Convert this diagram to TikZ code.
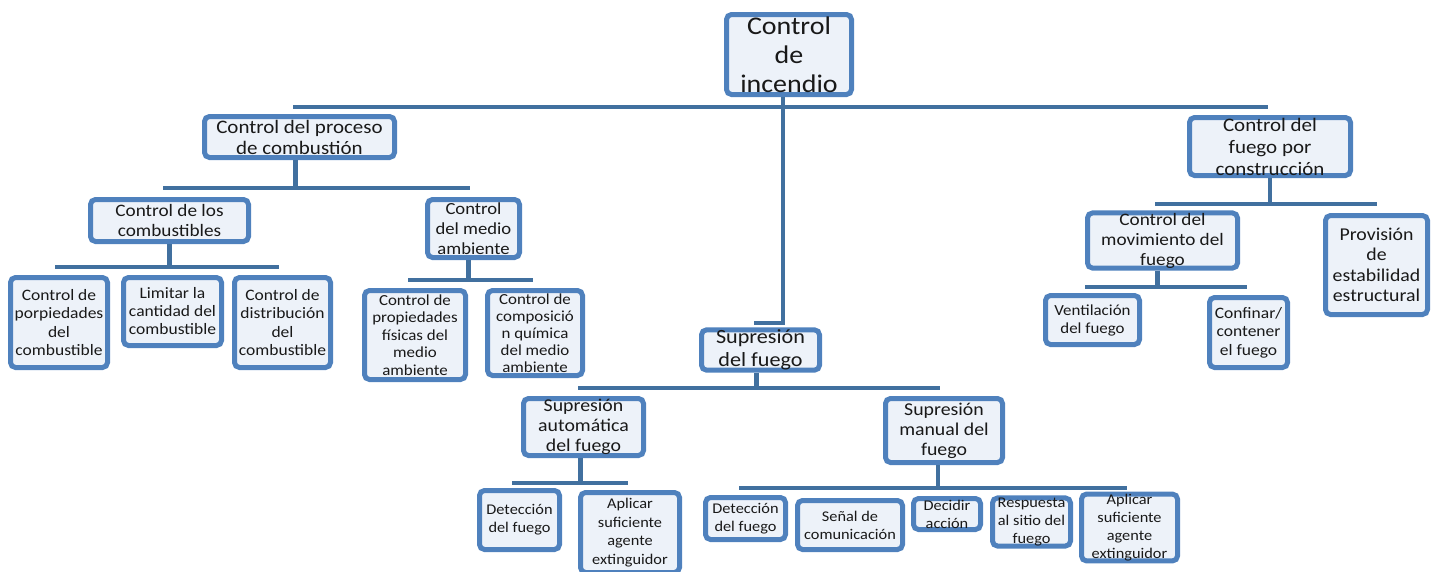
\documentclass[tikz,border=0pt]{standalone}
\usepackage{fontspec}
\setmainfont{Carlito}[FakeStretch=1.1]
\definecolor{bxline}{HTML}{4F81BD}
\definecolor{bxfill}{HTML}{EDF2F9}
\definecolor{cnc}{HTML}{41709F}
\tikzset{
  bx/.style={draw=bxline, line width=5pt, fill=bxfill, rounded corners=5pt,
             align=center, inner sep=0pt, text=black!90},
  cnline/.style={draw=cnc, line width=4.5pt},
}
\newcommand{\mybox}[8]{%
  \pgfmathsetmacro\bw{#4-#2-5}%
  \pgfmathsetmacro\bh{#5-#3-5}%
  \pgfmathsetmacro\cx{(#2+#4)/2}%
  \pgfmathsetmacro\cy{(#3+#5)/2}%
  \pgfmathsetmacro\fs{#6*1.06}%
  \node[bx, minimum width=\bw pt, minimum height=\bh pt,
        font={\fontsize{\fs}{#7}\selectfont}] (#1) at (\cx,\cy) {#8};%
}
\begin{document}
\begin{tikzpicture}[x=1pt,y=-1pt]
\useasboundingbox (0,0) rectangle (1439,571);
% bar coordinates
\coordinate (bML) at (293,107);   \coordinate (bMR) at (1268,107);
\coordinate (bSup) at (754,323);
\coordinate (bPL) at (163,188);   \coordinate (bPR) at (470,188);
\coordinate (bCL) at (55,267);    \coordinate (bCR) at (279,267);
\coordinate (bAL) at (408,280);   \coordinate (bAR) at (533,280);
\coordinate (bKL) at (1155,204);  \coordinate (bKR) at (1377,204);
\coordinate (bVL) at (1085,287);  \coordinate (bVR) at (1247,287);
\coordinate (bSL) at (578,388);   \coordinate (bSR) at (940,388);
\coordinate (bQL) at (512,483);   \coordinate (bQR) at (628,483);
\coordinate (bRL) at (739,488);   \coordinate (bRR) at (1127,488);

% boxes
\mybox{inc}{724}{12}{854}{97}{24}{29}{Control\\de\\incendio}
\mybox{proc}{202}{114}{397}{160}{18}{21}{Control del proceso\\de combustión}
\mybox{cons}{1187}{115}{1353}{178}{18}{22}{Control del\\fuego por\\construcción}
\mybox{comb}{88}{197}{251}{244}{16.5}{20}{Control de los\\combustibles}
\mybox{med}{425}{197}{522}{260}{16}{20}{Control\\del medio\\ambiente}
\mybox{ca}{8}{275}{110}{370}{15}{18.5}{Control de\\porpiedades\\del\\combustible}
\mybox{cb}{121}{275}{224}{348}{15}{18}{Limitar la\\cantidad del\\combustible}
\mybox{cc}{232}{275}{333}{370}{15}{18.5}{Control de\\distribución\\del\\combustible}
\mybox{ma}{362}{288}{468}{382}{14.5}{17.5}{Control de\\propiedades\\físicas del\\medio\\ambiente}
\mybox{mb}{485}{288}{585}{378}{14.5}{17}{Control de\\composició\\n química\\del medio\\ambiente}
\mybox{sup}{699}{330}{822}{370}{19}{23}{Supresión\\del fuego}
\mybox{mov}{1085}{212}{1240}{269}{16.5}{20}{Control del\\movimiento del\\fuego}
\mybox{prov}{1323}{213}{1430}{317}{17}{20.5}{Provisión\\de\\estabilidad\\estructural}
\mybox{ven}{1043}{293}{1142}{347}{14.5}{18}{Ventilación\\del fuego}
\mybox{conf}{1207}{295}{1290}{370}{15}{18.5}{Confinar/\\contener\\el fuego}
\mybox{sa}{521}{396}{646}{458}{17}{20}{Supresión\\automática\\del fuego}
\mybox{sm}{883}{396}{1005}{465}{17}{20}{Supresión\\manual del\\fuego}
\mybox{da}{477}{488}{562}{552}{14}{18}{Detección\\del fuego}
\mybox{aa}{578}{490}{682}{575}{14}{18.5}{Aplicar\\suficiente\\agente\\extinguidor}
\mybox{dm}{703}{495}{788}{542}{14}{18}{Detección\\del fuego}
\mybox{se}{795}{498}{905}{552}{14}{18}{Señal de\\comunicación}
\mybox{de}{911}{496}{983}{532}{14}{18}{Decidir\\acción}
\mybox{re}{990}{497}{1073}{547}{14}{18}{Respuesta\\al sitio del\\fuego}
\mybox{am}{1079}{497}{1180}{558}{14}{18}{Aplicar\\suficiente\\agente\\extinguidor}

% connectors
\draw[cnline] (bML) -- (bMR);
\draw[cnline] ([xshift=-6pt]inc.south) |- (bSup);
\draw[cnline] ([xshift=-4pt]proc.south) -- ([xshift=-4pt]proc.south |- bPL);
\draw[cnline] (bPL) -- (bPR);
\draw[cnline] (comb.south) -- (comb.south |- bCL);
\draw[cnline] (bCL) -- (bCR);
\draw[cnline] ([xshift=-5pt]med.south) -- ([xshift=-5pt]med.south |- bAL);
\draw[cnline] (bAL) -- (bAR);
\draw[cnline] (cons.south) -- (cons.south |- bKL);
\draw[cnline] (bKL) -- (bKR);
\draw[cnline] ([xshift=-5pt]mov.south) -- ([xshift=-5pt]mov.south |- bVL);
\draw[cnline] (bVL) -- (bVR);
\draw[cnline] ([xshift=-4pt]sup.south) -- ([xshift=-4pt]sup.south |- bSL);
\draw[cnline] (bSL) -- (bSR);
\draw[cnline] ([xshift=-3pt]sa.south) -- ([xshift=-3pt]sa.south |- bQL);
\draw[cnline] (bQL) -- (bQR);
\draw[cnline] ([xshift=-6pt]sm.south) -- ([xshift=-6pt]sm.south |- bRL);
\draw[cnline] (bRL) -- (bRR);
\end{tikzpicture}
\end{document}
